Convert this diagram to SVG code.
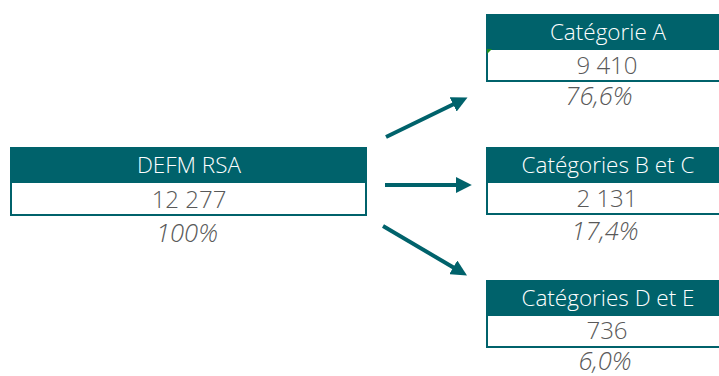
<svg xmlns="http://www.w3.org/2000/svg" width="719" height="376" viewBox="0 0 719 376">
<style>
.hd{fill:#00626B}
.bd{fill:#fff;stroke:#00626B;stroke-width:2}
.ht{font-family:"Open Sans",sans-serif;font-size:22.5px;font-weight:300;fill:#fff;text-anchor:middle}
.nt{font-family:"Open Sans",sans-serif;font-size:24px;font-weight:300;fill:#595959;text-anchor:middle}
.pt{font-family:"Open Sans",sans-serif;font-size:25.5px;font-weight:300;font-style:italic;fill:#595959;text-anchor:middle}
.ar{stroke:#00626B;stroke-width:4;fill:none;marker-end:url(#ah)}
</style>
<defs>
<marker id="ah" viewBox="0 0 10 10" refX="2" refY="5" markerWidth="4" markerHeight="4" orient="auto" markerUnits="strokeWidth">
<path d="M0,0 L10,5 L0,10 z" fill="#00626B"/>
</marker>
</defs>
<rect width="719" height="376" fill="#fff"/>
<g id="defm">
<rect class="bd" x="11" y="182" width="355" height="33"/>
<rect class="hd" x="10" y="147" width="357" height="36"/>
<text class="ht" x="189" y="173">DEFM RSA</text>
<text class="nt" x="189" y="208">12 277</text>
<text class="pt" x="187" y="242">100%</text>
</g>
<g id="catA">
<rect class="bd" x="487" y="48" width="240" height="33"/>
<rect class="hd" x="486" y="14" width="240" height="36"/>
<path d="M487,49 L492,49 L487,54 z" fill="#1E8C1E"/>
<text class="ht" x="608" y="40">Catégorie A</text>
<text class="nt" x="607" y="74">9 410</text>
<text class="pt" x="599" y="105">76,6%</text>
</g>
<g id="catBC">
<rect class="bd" x="487" y="181" width="240" height="33"/>
<rect class="hd" x="486" y="147" width="240" height="36"/>
<text class="ht" x="608" y="173">Catégories B et C</text>
<text class="nt" x="607" y="207">2 131</text>
<text class="pt" x="605" y="240">17,4%</text>
</g>
<g id="catDE">
<rect class="bd" x="487" y="314" width="240" height="33"/>
<rect class="hd" x="486" y="280" width="240" height="36"/>
<text class="ht" x="608" y="306">Catégories D et E</text>
<text class="nt" x="607" y="339">736</text>
<text class="pt" x="605" y="370">6,0%</text>
</g>
<g id="connectors">
<line class="ar" x1="386" y1="137" x2="456" y2="103"/>
<line class="ar" x1="385" y1="185" x2="459" y2="185"/>
<line class="ar" x1="383" y1="226" x2="456" y2="269"/>
</g>
</svg>
